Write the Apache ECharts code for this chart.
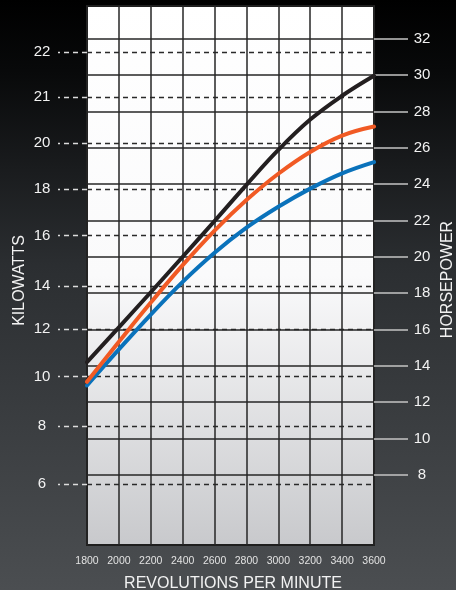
<!DOCTYPE html>
<html>
<head>
<meta charset="utf-8">
<script src="https://cdn.jsdelivr.net/npm/echarts@6/dist/echarts.min.js"></script>
<style>
html,body{margin:0;padding:0;background:#000;}
#chart{width:456px;height:590px;}
</style>
</head>
<body>
<div id="chart"></div>
<script>
// ---- data ----
const rpm = [1800, 2000, 2200, 2400, 2600, 2800, 3000, 3200, 3400, 3600];
// horsepower curves
const blackHp  = [14.2, 16.12, 18.05, 20.0, 21.97, 23.96, 25.88, 27.55, 28.86, 29.96];
const orangeHp = [13.12, 15.32, 17.48, 19.54, 21.44, 23.12, 24.57, 25.77, 26.67, 27.17];
const blueHp   = [12.92, 14.9, 16.82, 18.62, 20.22, 21.6, 22.75, 23.75, 24.59, 25.21];
// right axis tick labels (horsepower)
const hpTicks = [8, 10, 12, 14, 16, 18, 20, 22, 24, 26, 28, 30, 32];
// left axis tick labels (kilowatts) and where each sits on the horsepower scale
const kwTicks   = [6, 8, 10, 12, 14, 16, 18, 20, 21, 22];
const kwTickPos = [7.5, 10.7, 13.4, 16.02, 18.39, 21.16, 23.74, 26.27, 28.8, 31.28];
// axis range (horsepower scale)
const Y_MIN = 4.14, Y_MAX = 33.8;

const FONT = '"Liberation Sans", Arial, Helvetica, sans-serif';
const chart = echarts.init(document.getElementById('chart'));

function kwLabel(v) {
  let best = 0, d = Infinity;
  kwTickPos.forEach((p, i) => { const dd = Math.abs(p - v); if (dd < d) { d = dd; best = i; } });
  return String(kwTicks[best]);
}

const mkSeries = (name, data, color) => ({
  name, type: 'line', smooth: 0.4, symbol: 'none', yAxisIndex: 1,
  data: rpm.map((r, i) => [r, data[i]]),
  lineStyle: { color, width: 4, cap: 'round' },
  z: 5
});

chart.setOption({
  animation: false,
  backgroundColor: new echarts.graphic.LinearGradient(0, 0, 0, 1, [
    { offset: 0, color: '#000000' },
    { offset: 0.12, color: '#08090a' },
    { offset: 0.45, color: '#2b2e31' },
    { offset: 1, color: '#4b4e51' }
  ]),
  textStyle: { fontFamily: FONT },
  grid: {
    left: 87, right: 82, top: 6, bottom: 45,
    outerBoundsMode: 'none',
    containLabel: false,
    show: true,
    borderColor: '#1f1f1f', borderWidth: 2,
    backgroundColor: new echarts.graphic.LinearGradient(0, 0, 0, 1, [
      { offset: 0, color: '#ffffff' },
      { offset: 0.5, color: '#fafafb' },
      { offset: 1, color: '#c8c9cc' }
    ])
  },
  xAxis: {
    type: 'value', min: 1800, max: 3600, interval: 200,
    axisLine: { show: false },
    axisTick: { show: false },
    axisLabel: { color: '#e2e2e2', fontSize: 10.5, margin: 11, fontFamily: FONT,
      formatter: v => String(v) },
    splitLine: { show: true, lineStyle: { color: '#262626', width: 1.5 } },
    name: 'REVOLUTIONS PER MINUTE', nameLocation: 'middle', nameGap: 31,
    nameMoveOverlap: false,
    nameTextStyle: { color: '#f2f2f2', fontSize: 16, fontFamily: FONT, padding: [0, 0, 0, 5] }
  },
  yAxis: [
    {
      type: 'value', position: 'left', min: Y_MIN, max: Y_MAX,
      axisLine: { show: false },
      axisTick: { show: true, customValues: kwTickPos, length: 29,
        lineStyle: { color: '#dcdcdc', width: 1.3, type: [5, 4] } },
      axisLabel: { customValues: kwTickPos, formatter: kwLabel, color: '#f2f2f2',
        fontSize: 15, margin: 45, align: 'center', fontFamily: FONT },
      splitLine: { show: true, lineStyle: { color: '#2a2a2a', width: 1.3, type: [5, 4] } },
      name: 'KILOWATTS', nameLocation: 'middle', nameGap: 59, nameRotate: 90,
      nameMoveOverlap: false,
      nameTextStyle: { color: '#f2f2f2', fontSize: 16, fontFamily: FONT, padding: [0, 10, 0, 0] }
    },
    {
      type: 'value', position: 'right', min: Y_MIN, max: Y_MAX,
      axisLine: { show: false },
      axisTick: { show: true, customValues: hpTicks, length: 34,
        lineStyle: { color: '#c4c4c4', width: 1.5 } },
      axisLabel: { customValues: hpTicks, color: '#f2f2f2', fontSize: 15,
        margin: 48, align: 'center', fontFamily: FONT },
      splitLine: { show: true, lineStyle: { color: '#262626', width: 1.5 } },
      name: 'HORSEPOWER', nameLocation: 'middle', nameGap: 66, nameRotate: 90,
      nameMoveOverlap: false,
      nameTextStyle: { color: '#f2f2f2', fontSize: 16, fontFamily: FONT, padding: [0, 8, 0, 0] }
    }
  ],
  series: [
    mkSeries('blue', blueHp, '#0a72bb'),
    mkSeries('orange', orangeHp, '#f15a24'),
    mkSeries('black', blackHp, '#231f20')
  ]
});
</script>
</body>
</html>
